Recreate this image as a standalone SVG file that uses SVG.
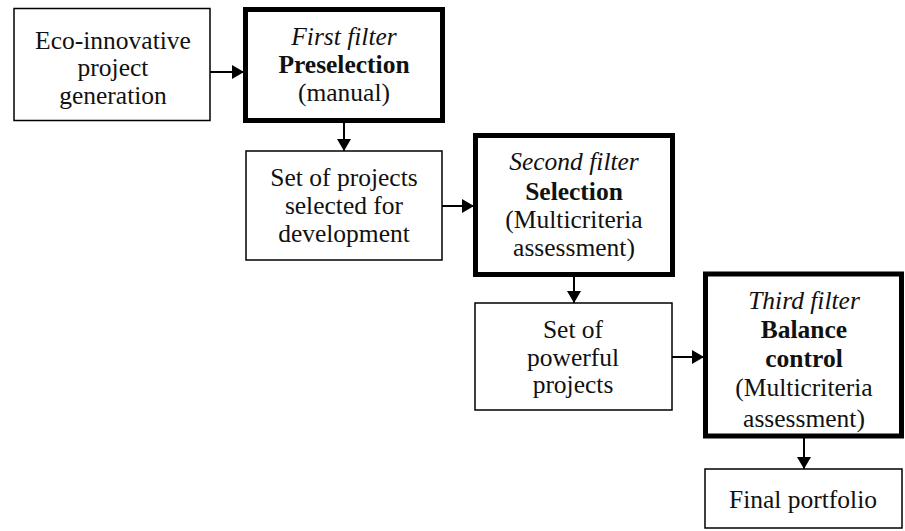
<svg xmlns="http://www.w3.org/2000/svg" width="905" height="531" viewBox="0 0 905 531">
<defs>
<style>
.thin{fill:#fff;stroke:#000;stroke-width:1.5}
.thick{fill:none;stroke:#000;stroke-width:5}
.bg{fill:#fff}
.t text{font-size:25.5px;fill:#111;text-anchor:middle}
.i{font-style:italic}
.b{font-weight:bold}
.conn{stroke:#000;stroke-width:2;fill:none;marker-end:url(#ah)}
</style>
<marker id="ah" viewBox="0 0 12 14" refX="12" refY="7" markerWidth="12" markerHeight="14" markerUnits="userSpaceOnUse" orient="auto">
<path d="M0,0 L12,7 L0,14 z" fill="#000"/>
</marker>
</defs>
<rect width="905" height="531" fill="#fff"/>
<g id="connectors">
<line class="conn" x1="210" y1="72" x2="244" y2="72"/>
<line class="conn" x1="344" y1="123" x2="344" y2="151"/>
<line class="conn" x1="442" y1="206" x2="474" y2="206"/>
<line class="conn" x1="574" y1="277" x2="574" y2="303"/>
<line class="conn" x1="672" y1="357" x2="704" y2="357"/>
<line class="conn" x1="804" y1="438" x2="804" y2="469"/>
</g>
<g class="t" font-family="Liberation Serif, Tinos, Times New Roman, DejaVu Serif, serif">
<g id="n1">
<rect class="thin" x="14" y="8.5" width="196" height="112"/>
<text x="113" y="48.5">Eco-innovative</text>
<text x="113" y="76">project</text>
<text x="113" y="103.5">generation</text>
</g>
<g id="n2">
<rect class="bg" x="245.5" y="9.5" width="197" height="111"/>
<text class="i" x="344" y="45">First filter</text>
<text class="b" x="344" y="73">Preselection</text>
<text x="344" y="101">(manual)</text>
<rect class="thick" x="245.5" y="9.5" width="197" height="111"/>
</g>
<g id="n3">
<rect class="thin" x="246" y="151" width="196" height="109"/>
<text x="344" y="186">Set of projects</text>
<text x="344" y="214">selected for</text>
<text x="344" y="242">development</text>
</g>
<g id="n4">
<rect class="bg" x="475.5" y="135.5" width="197" height="139"/>
<text class="i" x="574" y="170">Second filter</text>
<text class="b" x="574" y="200">Selection</text>
<text x="574" y="228">(Multicriteria</text>
<text x="574" y="256">assessment)</text>
<rect class="thick" x="475.5" y="135.5" width="197" height="139"/>
</g>
<g id="n5">
<rect class="thin" x="475" y="303" width="197" height="107"/>
<text x="573" y="338">Set of</text>
<text x="573" y="366">powerful</text>
<text x="573" y="393">projects</text>
</g>
<g id="n6">
<rect class="bg" x="705.5" y="274" width="196" height="162"/>
<text class="i" x="804" y="309">Third filter</text>
<text class="b" x="804" y="338">Balance</text>
<text class="b" x="804" y="367">control</text>
<text x="804" y="396">(Multicriteria</text>
<text x="804" y="427">assessment)</text>
<rect class="thick" x="705.5" y="274" width="196" height="162"/>
</g>
<g id="n7">
<rect class="thin" x="705" y="469" width="197" height="59"/>
<text x="803" y="508">Final portfolio</text>
</g>
</g>
</svg>
